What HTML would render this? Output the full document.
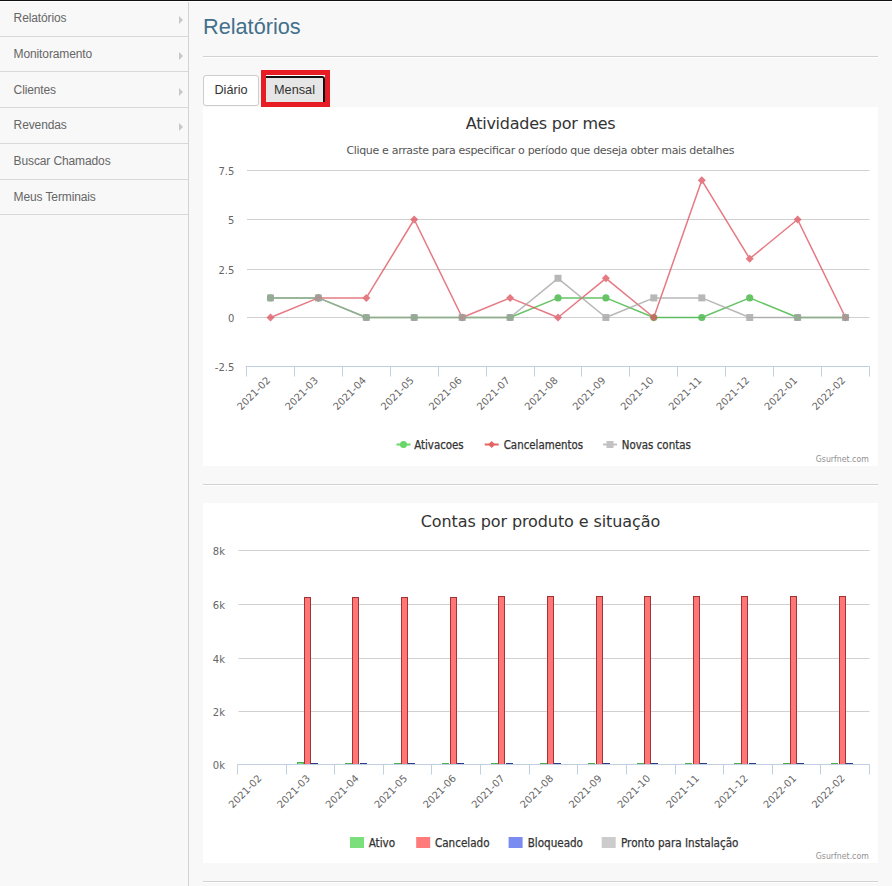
<!DOCTYPE html>
<html><head><meta charset="utf-8">
<style>
*{box-sizing:border-box;}
html,body{margin:0;padding:0;}
body{width:892px;height:886px;overflow:hidden;background:#f8f8f8;font-family:"Liberation Sans",Arial,sans-serif;position:relative;}
#topline{position:absolute;left:0;top:0;width:892px;height:1px;background:#111;border-bottom:1px solid #fff;box-sizing:content-box;}
#side{position:absolute;left:0;top:0;width:189px;height:886px;background:#f8f8f8;border-right:1px solid #d4d4d4;}
#side ul{list-style:none;margin:0;padding:0;}
#side li{position:absolute;left:0;width:188px;height:36px;border-bottom:1px solid #d8d8d8;font-size:12px;letter-spacing:-0.12px;color:#666;line-height:34px;padding-left:13.6px;}
#side li .arr{position:absolute;left:179px;top:15px;width:0;height:0;border-top:4px solid transparent;border-bottom:4px solid transparent;border-left:4px solid #c8c8c8;}
#main{position:absolute;left:203px;top:0;width:675px;}
h1{position:absolute;left:0;top:14px;margin:0;font-weight:normal;font-size:21.7px;color:#42708c;white-space:nowrap;}
.hr{position:absolute;left:0;width:675px;height:1px;background:#d2d2d2;border-bottom:1px solid #fff;box-sizing:content-box;}
.btn{position:absolute;font-size:12.7px;color:#333;text-align:center;border:1px solid #ccc;border-radius:3px;background:#fff;}
#b1{left:0;top:75px;width:56px;height:31px;line-height:28px;}
#red{position:absolute;left:58px;top:70px;width:69px;height:37px;border:5px solid #e81c24;background:#fff;}
#b2{left:0;top:1px;width:59px;height:26px;line-height:25px;background:#e6e6e6;border:0;border-top:2px solid #111;border-right:2px solid #111;border-radius:0 3px 0 0;}
.chart{position:absolute;left:0;width:675px;background:#fff;}
svg text{font-family:"DejaVu Sans","Lucida Grande",sans-serif;}
</style></head><body>
<div id="side"><ul>
<li style="top:1px;height:36px">Relatórios<span class="arr"></span></li>
<li style="top:37px;height:35px">Monitoramento<span class="arr"></span></li>
<li style="top:73px;height:35px">Clientes<span class="arr"></span></li>
<li style="top:108px;height:36px">Revendas<span class="arr"></span></li>
<li style="top:144px;height:36px">Buscar Chamados</li>
<li style="top:180px;height:35px">Meus Terminais</li>
</ul></div>
<div id="main">
<h1>Relatórios</h1>
<div class="hr" style="top:56px"></div>
<div class="btn" id="b1">Diário</div>
<div id="red"><div class="btn" id="b2">Mensal</div></div>
<div class="chart" id="c1" style="top:107px;height:359px;">
<svg width="675" height="359" font-family="DejaVu Sans, sans-serif">
<text x="337.7" y="21.8" text-anchor="middle" font-size="16" fill="#333" textLength="150" lengthAdjust="spacing">Atividades por mes</text>
<text x="337.4" y="46.8" text-anchor="middle" font-size="11" fill="#555" textLength="388" lengthAdjust="spacing">Clique e arraste para especificar o período que deseja obter mais detalhes</text>
<text x="31.3" y="67.7" text-anchor="end" font-size="10" fill="#666">7.5</text>
<text x="31.3" y="116.7" text-anchor="end" font-size="10" fill="#666">5</text>
<text x="31.3" y="166.7" text-anchor="end" font-size="10" fill="#666">2.5</text>
<text x="31.3" y="214.7" text-anchor="end" font-size="10" fill="#666">0</text>
<text x="31.3" y="263.7" text-anchor="end" font-size="10" fill="#666">-2.5</text>
<path d="M 44.0 63.5 L 666.5 63.5 M 44.0 112.5 L 666.5 112.5 M 44.0 162.5 L 666.5 162.5 M 44.0 210.5 L 666.5 210.5" stroke="#D0D0D0" stroke-width="1" fill="none"/>
<path d="M 42.5 259.5 L 666.5 259.5" stroke="#C0D0E0" stroke-width="1"/>
<path d="M 43.5 259.5 L 43.5 269.5 M 91.5 259.5 L 91.5 269.5 M 139.5 259.5 L 139.5 269.5 M 187.5 259.5 L 187.5 269.5 M 235.5 259.5 L 235.5 269.5 M 283.5 259.5 L 283.5 269.5 M 331.5 259.5 L 331.5 269.5 M 378.5 259.5 L 378.5 269.5 M 426.5 259.5 L 426.5 269.5 M 474.5 259.5 L 474.5 269.5 M 522.5 259.5 L 522.5 269.5 M 570.5 259.5 L 570.5 269.5 M 618.5 259.5 L 618.5 269.5 M 666.5 259.5 L 666.5 269.5" stroke="#C0D0E0" stroke-width="1" fill="none"/>
<text x="67.9" y="274.1" text-anchor="end" transform="rotate(-45 67.9 274.1)" font-size="10" fill="#666">2021-02</text>
<text x="115.8" y="274.1" text-anchor="end" transform="rotate(-45 115.8 274.1)" font-size="10" fill="#666">2021-03</text>
<text x="163.7" y="274.1" text-anchor="end" transform="rotate(-45 163.7 274.1)" font-size="10" fill="#666">2021-04</text>
<text x="211.6" y="274.1" text-anchor="end" transform="rotate(-45 211.6 274.1)" font-size="10" fill="#666">2021-05</text>
<text x="259.6" y="274.1" text-anchor="end" transform="rotate(-45 259.6 274.1)" font-size="10" fill="#666">2021-06</text>
<text x="307.5" y="274.1" text-anchor="end" transform="rotate(-45 307.5 274.1)" font-size="10" fill="#666">2021-07</text>
<text x="355.4" y="274.1" text-anchor="end" transform="rotate(-45 355.4 274.1)" font-size="10" fill="#666">2021-08</text>
<text x="403.3" y="274.1" text-anchor="end" transform="rotate(-45 403.3 274.1)" font-size="10" fill="#666">2021-09</text>
<text x="451.2" y="274.1" text-anchor="end" transform="rotate(-45 451.2 274.1)" font-size="10" fill="#666">2021-10</text>
<text x="499.2" y="274.1" text-anchor="end" transform="rotate(-45 499.2 274.1)" font-size="10" fill="#666">2021-11</text>
<text x="547.1" y="274.1" text-anchor="end" transform="rotate(-45 547.1 274.1)" font-size="10" fill="#666">2021-12</text>
<text x="595.0" y="274.1" text-anchor="end" transform="rotate(-45 595.0 274.1)" font-size="10" fill="#666">2022-01</text>
<text x="642.9" y="274.1" text-anchor="end" transform="rotate(-45 642.9 274.1)" font-size="10" fill="#666">2022-02</text>
<g opacity="0.78"><path d="M 67.5 190.9 L 115.4 190.9 L 163.3 210.5 L 211.2 210.5 L 259.2 210.5 L 307.1 210.5 L 355.0 190.9 L 402.9 190.9 L 450.8 210.5 L 498.8 210.5 L 546.7 190.9 L 594.6 210.5 L 642.5 210.5" stroke="#3cb43c" stroke-width="1.5" fill="none" stroke-linejoin="round"/>
<circle cx="67.5" cy="190.9" r="3.6" fill="#3cb43c"/>
<circle cx="115.4" cy="190.9" r="3.6" fill="#3cb43c"/>
<circle cx="163.3" cy="210.5" r="3.6" fill="#3cb43c"/>
<circle cx="211.2" cy="210.5" r="3.6" fill="#3cb43c"/>
<circle cx="259.2" cy="210.5" r="3.6" fill="#3cb43c"/>
<circle cx="307.1" cy="210.5" r="3.6" fill="#3cb43c"/>
<circle cx="355.0" cy="190.9" r="3.6" fill="#3cb43c"/>
<circle cx="402.9" cy="190.9" r="3.6" fill="#3cb43c"/>
<circle cx="450.8" cy="210.5" r="3.6" fill="#3cb43c"/>
<circle cx="498.8" cy="210.5" r="3.6" fill="#3cb43c"/>
<circle cx="546.7" cy="190.9" r="3.6" fill="#3cb43c"/>
<circle cx="594.6" cy="210.5" r="3.6" fill="#3cb43c"/>
<circle cx="642.5" cy="210.5" r="3.6" fill="#3cb43c"/>
</g>
<g opacity="0.78"><path d="M 67.5 210.5 L 115.4 190.9 L 163.3 190.9 L 211.2 112.5 L 259.2 210.5 L 307.1 190.9 L 355.0 210.5 L 402.9 171.3 L 450.8 210.5 L 498.8 73.3 L 546.7 151.7 L 594.6 112.5 L 642.5 210.5" stroke="#e05560" stroke-width="1.5" fill="none" stroke-linejoin="round"/>
<path d="M 67.5 206.5 L 71.5 210.5 L 67.5 214.5 L 63.5 210.5 Z" fill="#e05560"/>
<path d="M 115.4 186.9 L 119.4 190.9 L 115.4 194.9 L 111.4 190.9 Z" fill="#e05560"/>
<path d="M 163.3 186.9 L 167.3 190.9 L 163.3 194.9 L 159.3 190.9 Z" fill="#e05560"/>
<path d="M 211.2 108.5 L 215.2 112.5 L 211.2 116.5 L 207.2 112.5 Z" fill="#e05560"/>
<path d="M 259.2 206.5 L 263.2 210.5 L 259.2 214.5 L 255.2 210.5 Z" fill="#e05560"/>
<path d="M 307.1 186.9 L 311.1 190.9 L 307.1 194.9 L 303.1 190.9 Z" fill="#e05560"/>
<path d="M 355.0 206.5 L 359.0 210.5 L 355.0 214.5 L 351.0 210.5 Z" fill="#e05560"/>
<path d="M 402.9 167.3 L 406.9 171.3 L 402.9 175.3 L 398.9 171.3 Z" fill="#e05560"/>
<path d="M 450.8 206.5 L 454.8 210.5 L 450.8 214.5 L 446.8 210.5 Z" fill="#e05560"/>
<path d="M 498.8 69.3 L 502.8 73.3 L 498.8 77.3 L 494.8 73.3 Z" fill="#e05560"/>
<path d="M 546.7 147.7 L 550.7 151.7 L 546.7 155.7 L 542.7 151.7 Z" fill="#e05560"/>
<path d="M 594.6 108.5 L 598.6 112.5 L 594.6 116.5 L 590.6 112.5 Z" fill="#e05560"/>
<path d="M 642.5 206.5 L 646.5 210.5 L 642.5 214.5 L 638.5 210.5 Z" fill="#e05560"/>
</g>
<g opacity="0.78"><path d="M 67.5 190.9 L 115.4 190.9 L 163.3 210.5 L 211.2 210.5 L 259.2 210.5 L 307.1 210.5 L 355.0 171.3 L 402.9 210.5 L 450.8 190.9 L 498.8 190.9 L 546.7 210.5 L 594.6 210.5 L 642.5 210.5" stroke="#a4a4a4" stroke-width="1.5" fill="none" stroke-linejoin="round"/>
<rect x="64.0" y="187.4" width="7" height="7" fill="#a4a4a4"/>
<rect x="111.9" y="187.4" width="7" height="7" fill="#a4a4a4"/>
<rect x="159.8" y="207.0" width="7" height="7" fill="#a4a4a4"/>
<rect x="207.7" y="207.0" width="7" height="7" fill="#a4a4a4"/>
<rect x="255.7" y="207.0" width="7" height="7" fill="#a4a4a4"/>
<rect x="303.6" y="207.0" width="7" height="7" fill="#a4a4a4"/>
<rect x="351.5" y="167.8" width="7" height="7" fill="#a4a4a4"/>
<rect x="399.4" y="207.0" width="7" height="7" fill="#a4a4a4"/>
<rect x="447.3" y="187.4" width="7" height="7" fill="#a4a4a4"/>
<rect x="495.3" y="187.4" width="7" height="7" fill="#a4a4a4"/>
<rect x="543.2" y="207.0" width="7" height="7" fill="#a4a4a4"/>
<rect x="591.1" y="207.0" width="7" height="7" fill="#a4a4a4"/>
<rect x="639.0" y="207.0" width="7" height="7" fill="#a4a4a4"/>
</g>
<g opacity="0.85"><path d="M 193.5 337.5 L 207.5 337.5" stroke="#4fd04f" stroke-width="2"/>
<circle cx="200.5" cy="337.5" r="3.5" fill="#4fd04f"/>
</g>
<text x="211.2" y="341.5" font-size="11.5" font-stretch="condensed" fill="#333" stroke="#333" stroke-width="0.25" textLength="49.5" lengthAdjust="spacingAndGlyphs">Ativacoes</text>
<g opacity="0.85"><path d="M 281.7 337.5 L 295.7 337.5" stroke="#e04848" stroke-width="2"/>
<path d="M 288.7 334.0 L 292.2 337.5 L 288.7 341.0 L 285.2 337.5 Z" fill="#e04848"/>
</g>
<text x="300.7" y="341.5" font-size="11.5" font-stretch="condensed" fill="#333" stroke="#333" stroke-width="0.25" textLength="79.5" lengthAdjust="spacingAndGlyphs">Cancelamentos</text>
<g opacity="0.85"><path d="M 400 337.5 L 414 337.5" stroke="#b8b8b8" stroke-width="2"/>
<rect x="403.5" y="334.0" width="7" height="7" fill="#b8b8b8"/>
</g>
<text x="418.8" y="341.5" font-size="11.5" font-stretch="condensed" fill="#333" stroke="#333" stroke-width="0.25" textLength="69" lengthAdjust="spacingAndGlyphs">Novas contas</text>
<text x="665.8" y="354.8" text-anchor="end" font-size="8" fill="#909090" textLength="53" lengthAdjust="spacingAndGlyphs">Gsurfnet.com</text>
</svg>
</div>
<div class="hr" style="top:484px"></div>
<div class="chart" id="c2" style="top:503px;height:360px;">
<svg width="675" height="360" font-family="DejaVu Sans, sans-serif">
<text x="337.5" y="23.9" text-anchor="middle" font-size="16" fill="#333" textLength="239.5" lengthAdjust="spacing">Contas por produto e situação</text>
<text x="22" y="51.5" text-anchor="end" font-size="10" fill="#666">8k</text>
<text x="22" y="105.5" text-anchor="end" font-size="10" fill="#666">6k</text>
<text x="22" y="159.5" text-anchor="end" font-size="10" fill="#666">4k</text>
<text x="22" y="212.5" text-anchor="end" font-size="10" fill="#666">2k</text>
<text x="22" y="265.5" text-anchor="end" font-size="10" fill="#666">0k</text>
<path d="M 35.5 47.5 L 666.5 47.5 M 35.5 101.5 L 666.5 101.5 M 35.5 155.5 L 666.5 155.5 M 35.5 208.5 L 666.5 208.5" stroke="#D0D0D0" stroke-width="1" fill="none"/>
<rect x="94.5" y="259.5" width="6" height="2.0" fill="#7be07b" stroke="#4cae4c" stroke-width="1"/>
<rect x="142.5" y="260.5" width="6" height="1.0" fill="#7be07b" stroke="#4cae4c" stroke-width="1"/>
<rect x="191.5" y="260.5" width="6" height="1.0" fill="#7be07b" stroke="#4cae4c" stroke-width="1"/>
<rect x="239.5" y="260.5" width="6" height="1.0" fill="#7be07b" stroke="#4cae4c" stroke-width="1"/>
<rect x="288.5" y="260.5" width="6" height="1.0" fill="#7be07b" stroke="#4cae4c" stroke-width="1"/>
<rect x="337.5" y="260.5" width="6" height="1.0" fill="#7be07b" stroke="#4cae4c" stroke-width="1"/>
<rect x="385.5" y="260.5" width="6" height="1.0" fill="#7be07b" stroke="#4cae4c" stroke-width="1"/>
<rect x="434.5" y="260.5" width="6" height="1.0" fill="#7be07b" stroke="#4cae4c" stroke-width="1"/>
<rect x="482.5" y="260.5" width="6" height="1.0" fill="#7be07b" stroke="#4cae4c" stroke-width="1"/>
<rect x="531.5" y="260.5" width="6" height="1.0" fill="#7be07b" stroke="#4cae4c" stroke-width="1"/>
<rect x="580.5" y="260.5" width="6" height="1.0" fill="#7be07b" stroke="#4cae4c" stroke-width="1"/>
<rect x="628.5" y="260.5" width="6" height="1.0" fill="#7be07b" stroke="#4cae4c" stroke-width="1"/>
<rect x="101.5" y="94.5" width="6" height="167.0" fill="#ff7676" stroke="#a03434" stroke-width="1"/>
<rect x="149.5" y="94.5" width="6" height="167.0" fill="#ff7676" stroke="#a03434" stroke-width="1"/>
<rect x="198.5" y="94.5" width="6" height="167.0" fill="#ff7676" stroke="#a03434" stroke-width="1"/>
<rect x="247.5" y="94.5" width="6" height="167.0" fill="#ff7676" stroke="#a03434" stroke-width="1"/>
<rect x="295.5" y="93.5" width="6" height="168.0" fill="#ff7676" stroke="#a03434" stroke-width="1"/>
<rect x="344.5" y="93.5" width="6" height="168.0" fill="#ff7676" stroke="#a03434" stroke-width="1"/>
<rect x="393.5" y="93.5" width="6" height="168.0" fill="#ff7676" stroke="#a03434" stroke-width="1"/>
<rect x="441.5" y="93.5" width="6" height="168.0" fill="#ff7676" stroke="#a03434" stroke-width="1"/>
<rect x="490.5" y="93.5" width="6" height="168.0" fill="#ff7676" stroke="#a03434" stroke-width="1"/>
<rect x="538.5" y="93.5" width="6" height="168.0" fill="#ff7676" stroke="#a03434" stroke-width="1"/>
<rect x="587.5" y="93.5" width="6" height="168.0" fill="#ff7676" stroke="#a03434" stroke-width="1"/>
<rect x="636.5" y="93.5" width="6" height="168.0" fill="#ff7676" stroke="#a03434" stroke-width="1"/>
<rect x="108.5" y="260.5" width="6" height="1.0" fill="#7a8cf0" stroke="#2a3a90" stroke-width="1"/>
<rect x="157.5" y="260.5" width="6" height="1.0" fill="#7a8cf0" stroke="#2a3a90" stroke-width="1"/>
<rect x="205.5" y="260.5" width="6" height="1.0" fill="#7a8cf0" stroke="#2a3a90" stroke-width="1"/>
<rect x="254.5" y="260.5" width="6" height="1.0" fill="#7a8cf0" stroke="#2a3a90" stroke-width="1"/>
<rect x="303.5" y="260.5" width="6" height="1.0" fill="#7a8cf0" stroke="#2a3a90" stroke-width="1"/>
<rect x="351.5" y="260.5" width="6" height="1.0" fill="#7a8cf0" stroke="#2a3a90" stroke-width="1"/>
<rect x="400.5" y="260.5" width="6" height="1.0" fill="#7a8cf0" stroke="#2a3a90" stroke-width="1"/>
<rect x="448.5" y="260.5" width="6" height="1.0" fill="#7a8cf0" stroke="#2a3a90" stroke-width="1"/>
<rect x="497.5" y="260.5" width="6" height="1.0" fill="#7a8cf0" stroke="#2a3a90" stroke-width="1"/>
<rect x="546.5" y="260.5" width="6" height="1.0" fill="#7a8cf0" stroke="#2a3a90" stroke-width="1"/>
<rect x="594.5" y="260.5" width="6" height="1.0" fill="#7a8cf0" stroke="#2a3a90" stroke-width="1"/>
<rect x="643.5" y="260.5" width="6" height="1.0" fill="#7a8cf0" stroke="#2a3a90" stroke-width="1"/>
<path d="M 34.5 261.5 L 666.5 261.5" stroke="#C0D0E0" stroke-width="1"/>
<path d="M 34.5 261.5 L 34.5 271.5 M 83.5 261.5 L 83.5 271.5 M 131.5 261.5 L 131.5 271.5 M 180.5 261.5 L 180.5 271.5 M 228.5 261.5 L 228.5 271.5 M 277.5 261.5 L 277.5 271.5 M 326.5 261.5 L 326.5 271.5 M 374.5 261.5 L 374.5 271.5 M 423.5 261.5 L 423.5 271.5 M 472.5 261.5 L 472.5 271.5 M 520.5 261.5 L 520.5 271.5 M 569.5 261.5 L 569.5 271.5 M 617.5 261.5 L 617.5 271.5 M 666.5 261.5 L 666.5 271.5" stroke="#C0D0E0" stroke-width="1" fill="none"/>
<text x="59.2" y="276.1" text-anchor="end" transform="rotate(-45 59.2 276.1)" font-size="10" fill="#666">2021-02</text>
<text x="107.8" y="276.1" text-anchor="end" transform="rotate(-45 107.8 276.1)" font-size="10" fill="#666">2021-03</text>
<text x="156.4" y="276.1" text-anchor="end" transform="rotate(-45 156.4 276.1)" font-size="10" fill="#666">2021-04</text>
<text x="205.1" y="276.1" text-anchor="end" transform="rotate(-45 205.1 276.1)" font-size="10" fill="#666">2021-05</text>
<text x="253.7" y="276.1" text-anchor="end" transform="rotate(-45 253.7 276.1)" font-size="10" fill="#666">2021-06</text>
<text x="302.3" y="276.1" text-anchor="end" transform="rotate(-45 302.3 276.1)" font-size="10" fill="#666">2021-07</text>
<text x="350.9" y="276.1" text-anchor="end" transform="rotate(-45 350.9 276.1)" font-size="10" fill="#666">2021-08</text>
<text x="399.5" y="276.1" text-anchor="end" transform="rotate(-45 399.5 276.1)" font-size="10" fill="#666">2021-09</text>
<text x="448.1" y="276.1" text-anchor="end" transform="rotate(-45 448.1 276.1)" font-size="10" fill="#666">2021-10</text>
<text x="496.7" y="276.1" text-anchor="end" transform="rotate(-45 496.7 276.1)" font-size="10" fill="#666">2021-11</text>
<text x="545.4" y="276.1" text-anchor="end" transform="rotate(-45 545.4 276.1)" font-size="10" fill="#666">2021-12</text>
<text x="594.0" y="276.1" text-anchor="end" transform="rotate(-45 594.0 276.1)" font-size="10" fill="#666">2022-01</text>
<text x="642.6" y="276.1" text-anchor="end" transform="rotate(-45 642.6 276.1)" font-size="10" fill="#666">2022-02</text>
<rect x="147" y="334" width="14" height="11" fill="#7be07b"/>
<text x="165.7" y="344" font-size="11.5" font-stretch="condensed" fill="#333" stroke="#333" stroke-width="0.25" textLength="26.5" lengthAdjust="spacingAndGlyphs">Ativo</text>
<rect x="213.2" y="334" width="14" height="11" fill="#ff7a7a"/>
<text x="232.0" y="344" font-size="11.5" font-stretch="condensed" fill="#333" stroke="#333" stroke-width="0.25" textLength="54.5" lengthAdjust="spacingAndGlyphs">Cancelado</text>
<rect x="305.6" y="334" width="14" height="11" fill="#7a8cf0"/>
<text x="324.7" y="344" font-size="11.5" font-stretch="condensed" fill="#333" stroke="#333" stroke-width="0.25" textLength="55.3" lengthAdjust="spacingAndGlyphs">Bloqueado</text>
<rect x="398.7" y="334" width="14" height="11" fill="#cccccc"/>
<text x="418.0" y="344" font-size="11.5" font-stretch="condensed" fill="#333" stroke="#333" stroke-width="0.25" textLength="117.5" lengthAdjust="spacingAndGlyphs">Pronto para Instalação</text>
<text x="665.8" y="355.9" text-anchor="end" font-size="8" fill="#909090" textLength="53" lengthAdjust="spacingAndGlyphs">Gsurfnet.com</text>
</svg>
</div>
<div class="hr" style="top:881px"></div>
</div>
<div id="topline"></div>
</body></html>
